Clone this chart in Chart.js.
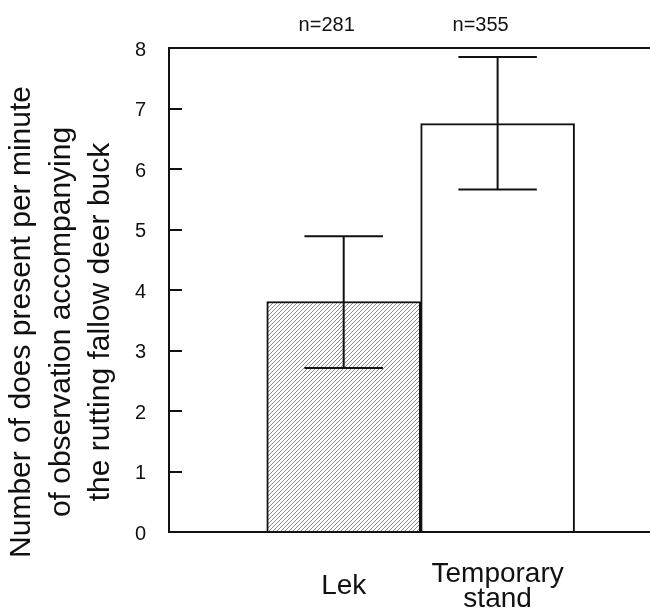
<!DOCTYPE html>
<html><head><meta charset="utf-8">
<script src="https://cdn.jsdelivr.net/npm/chart.js@4/dist/chart.umd.min.js"></script>
<style>html,body{margin:0;padding:0;background:#fff;} canvas{display:block;}</style>
</head><body>
<canvas id="c" width="650" height="609"></canvas>
<script>
const categories = ['Lek', 'Temporary stand'];
const categoryLabelLines = [['Lek'], ['Temporary', 'stand']];
const categoryPositions = [1, 2];
const sampleSizes = ['n=281', 'n=355'];
const meanValues = [3.81, 6.75];
const errorLow = [2.71, 5.66];
const errorHigh = [4.89, 7.85];
const yTicks = [0, 1, 2, 3, 4, 5, 6, 7, 8];
const yTitleLines = ['Number of does present per minute', 'of observation accompanying', 'the rutting fallow deer buck'];

const FONT = '"Liberation Sans", Arial, Helvetica, sans-serif';
const INK = '#111';
Chart.defaults.font.family = FONT;
Chart.defaults.color = INK;

function makeHatch() {
  const s = 4;
  const p = document.createElement('canvas');
  p.width = s; p.height = s;
  const g = p.getContext('2d');
  g.fillStyle = '#fff'; g.fillRect(0, 0, s, s);
  g.strokeStyle = '#5a5a5a'; g.lineWidth = 0.7;
  g.beginPath();
  g.moveTo(-1, s + 1); g.lineTo(s + 1, -1);
  g.moveTo(-1, 1); g.lineTo(1, -1);
  g.moveTo(s - 1, s + 1); g.lineTo(s + 1, s - 1);
  g.stroke();
  return g.createPattern(p, 'repeat');
}

const errorBars = {
  id: 'errorBars',
  afterDatasetsDraw(chart) {
    const ctx = chart.ctx, x = chart.scales.x, y = chart.scales.y;
    const meta = chart.getDatasetMeta(0);
    ctx.save();
    ctx.strokeStyle = INK; ctx.lineWidth = 2;
    meta.data.forEach((bar, i) => {
      const cx = x.getPixelForValue(categoryPositions[i]);
      const yl = y.getPixelForValue(errorLow[i]);
      const yh = y.getPixelForValue(errorHigh[i]);
      const hw = bar.width * 0.255;
      ctx.beginPath();
      ctx.moveTo(cx, yl); ctx.lineTo(cx, yh);
      ctx.moveTo(cx - hw, yh); ctx.lineTo(cx + hw, yh);
      ctx.moveTo(cx - hw, yl); ctx.lineTo(cx + hw, yl);
      ctx.stroke();
    });
    ctx.restore();
  }
};

const yTitle = {
  id: 'yTitle',
  afterDraw(chart) {
    const ctx = chart.ctx, ca = chart.chartArea;
    const cy = (ca.top + ca.bottom) / 2 + 32;
    ctx.save();
    ctx.fillStyle = INK;
    ctx.font = '30px ' + FONT;
    ctx.textAlign = 'center'; ctx.textBaseline = 'middle';
    yTitleLines.forEach((line, i) => {
      ctx.save();
      ctx.translate(22 + i * 39.3, cy);
      ctx.rotate(-Math.PI / 2);
      ctx.fillText(line, 0, 0);
      ctx.restore();
    });
    ctx.restore();
  }
};

const X_MIN = -0.135, X_MAX = 2.99;
const setCatTicks = s => { s.ticks = categoryPositions.map(v => ({ value: v })); };

new Chart(document.getElementById('c'), {
  type: 'bar',
  data: {
    labels: categories,
    datasets: [{
      label: 'Does per minute',
      data: categoryPositions.map((p, i) => ({ x: p, y: meanValues[i] })),
      backgroundColor: [makeHatch(), '#ffffff'],
      borderColor: INK,
      borderWidth: 2,
      borderSkipped: 'start',
      barPercentage: 1,
      categoryPercentage: 1
    }]
  },
  options: {
    responsive: false,
    animation: false,
    layout: { padding: 0 },
    plugins: { legend: { display: false }, tooltip: { enabled: false } },
    scales: {
      x: {
        type: 'linear', position: 'bottom', min: X_MIN, max: X_MAX, offset: false,
        afterBuildTicks: setCatTicks,
        afterFit: s => { s.height = 77; },
        grid: { drawOnChartArea: false, drawTicks: false, offset: false },
        border: { display: true, color: INK, width: 2 },
        ticks: {
          callback: v => categoryLabelLines[categoryPositions.indexOf(v)],
          font: { size: 28, lineHeight: 0.9 }, color: INK,
          padding: 42, crossAlign: 'center', maxRotation: 0, autoSkip: false
        }
      },
      x2: {
        type: 'linear', position: 'top', min: X_MIN, max: X_MAX, offset: false,
        afterBuildTicks: setCatTicks,
        afterFit: s => { s.height = 47; },
        grid: { drawOnChartArea: false, drawTicks: false, offset: false },
        border: { display: true, color: INK, width: 2 },
        ticks: {
          callback: v => sampleSizes[categoryPositions.indexOf(v)],
          font: { size: 20 }, color: INK,
          padding: 11, labelOffset: -17, maxRotation: 0, autoSkip: false
        }
      },
      y: {
        position: 'left', min: 0, max: 8,
        afterBuildTicks: s => { s.ticks = yTicks.map(v => ({ value: v })); },
        afterFit: s => { s.width = 169; },
        grid: { drawOnChartArea: false, drawTicks: true, tickLength: -13, color: INK, lineWidth: 2 },
        border: { display: true, color: INK, width: 2 },
        ticks: { font: { size: 20 }, color: INK, padding: 36, labelOffset: 2 }
      }
    }
  },
  plugins: [errorBars, yTitle]
});
</script>
</body></html>
